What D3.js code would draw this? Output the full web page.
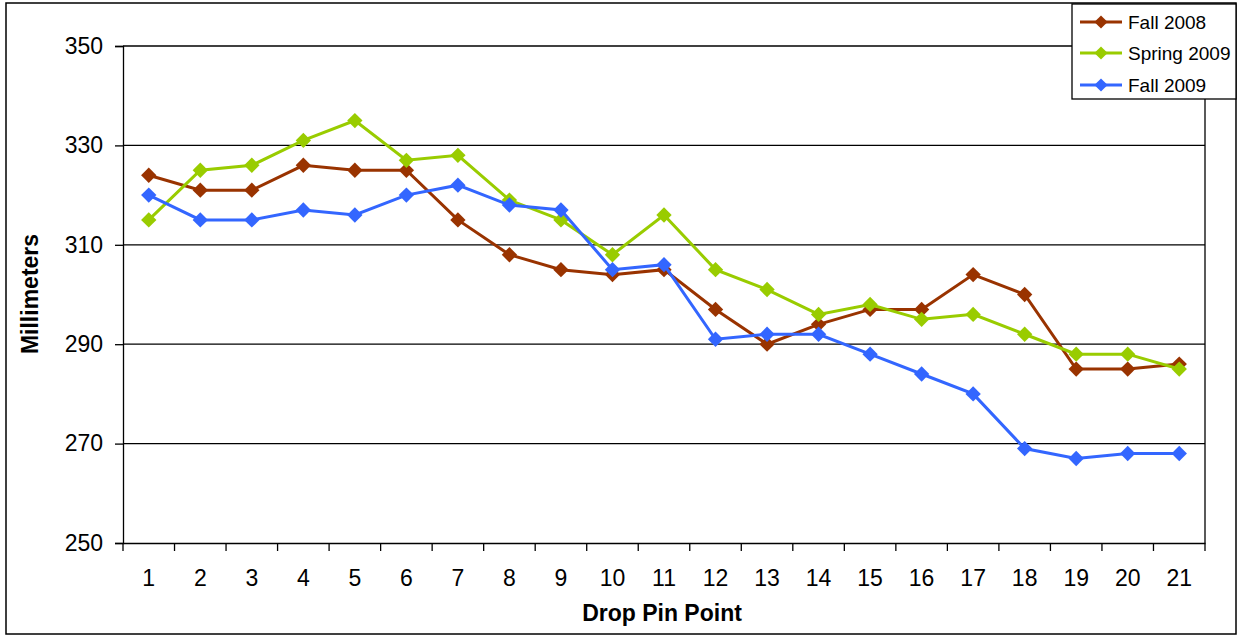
<!DOCTYPE html>
<html>
<head>
<meta charset="utf-8">
<script src="https://cdn.jsdelivr.net/npm/d3@7"></script>
<style>
html,body{margin:0;padding:0;background:#fff;}
svg{display:block;font-family:"Liberation Sans",Arial,sans-serif;}
</style>
</head>
<body>
<svg id="chart" width="1242" height="636"></svg>
<script>
const categories = ["1","2","3","4","5","6","7","8","9","10","11","12","13","14","15","16","17","18","19","20","21"];
const fall2008 = [324,321,321,326,325,325,315,308,305,304,305,297,290,294,297,297,304,300,285,285,286];
const spring2009 = [315,325,326,331,335,327,328,319,315,308,316,305,301,296,298,295,296,292,288,288,285];
const fall2009 = [320,315,315,317,316,320,322,318,317,305,306,291,292,292,288,284,280,269,267,268,268];
const seriesNames = ["Fall 2008","Spring 2009","Fall 2009"];
const seriesColors = ["#993300","#99CC00","#3366FF"];
const yTicks = [250,270,290,310,330,350];

const series = [fall2008, spring2009, fall2009].map((v,i)=>({name:seriesNames[i], color:seriesColors[i], values:v}));

const svg = d3.select("#chart");
const m = {left:123, right:1205, top:46, bottom:543};
const FONT = "Liberation Sans, Arial, sans-serif";

// outer frame
svg.append("rect").attr("x",6).attr("y",3).attr("width",1230).attr("height",631)
  .attr("fill","#fff").attr("stroke","#000").attr("stroke-width",1.5);

const x = d3.scaleBand().domain(categories).range([m.left,m.right]);
const y = d3.scaleLinear().domain([250,350]).range([m.bottom,m.top]);

// gridlines
svg.append("g").selectAll("line").data(yTicks.filter(t=>t>250)).join("line")
  .attr("x1",m.left).attr("x2",m.right)
  .attr("y1",d=>y(d)).attr("y2",d=>y(d))
  .attr("stroke","#000").attr("stroke-width",1.3);

// right border of plot
svg.append("line").attr("x1",m.right).attr("x2",m.right).attr("y1",m.top).attr("y2",m.bottom)
  .attr("stroke","#000").attr("stroke-width",1.3);

// y axis
const yAxis = svg.append("g").attr("transform",`translate(${m.left},0)`)
  .call(d3.axisLeft(y).tickValues(yTicks).tickSize(8).tickPadding(12));
yAxis.select(".domain").attr("stroke","#000").attr("stroke-width",1.3);
yAxis.selectAll(".tick line").attr("stroke","#000").attr("stroke-width",1.3);
yAxis.selectAll("text").attr("font-size","23px").attr("fill","#000").attr("font-family",FONT);

// x axis
const xAxis = svg.append("g").attr("transform",`translate(0,${m.bottom})`)
  .call(d3.axisBottom(x).tickSize(0).tickPadding(27));
xAxis.select(".domain").attr("stroke","#000").attr("stroke-width",1.3);
xAxis.selectAll("text").attr("font-size","23px").attr("fill","#000").attr("font-family",FONT);
// x tick marks between categories
const bounds = categories.map(c=>x(c)).concat([m.right]);
svg.append("g").selectAll("line").data(bounds).join("line")
  .attr("x1",d=>d).attr("x2",d=>d).attr("y1",m.bottom).attr("y2",m.bottom+8)
  .attr("stroke","#000").attr("stroke-width",1.3);

// axis titles
svg.append("text").attr("x",(m.left+m.right)/2 - 2).attr("y",621)
  .attr("text-anchor","middle").attr("font-size","23px").attr("font-weight","bold")
  .text("Drop Pin Point");
svg.append("text").attr("transform",`translate(38,294) rotate(-90)`)
  .attr("text-anchor","middle").attr("font-size","23px").attr("font-weight","bold")
  .text("Millimeters");

const cx = d=>x(d)+x.bandwidth()/2;
const line = d3.line().x((d,i)=>cx(categories[i])).y(d=>y(d));
const diamond = d3.symbol().type(d3.symbolDiamond2).size(150);
series.forEach(s=>{
  const g = svg.append("g");
  g.append("path").datum(s.values).attr("d",line)
    .attr("fill","none").attr("stroke",s.color).attr("stroke-width",3);
  g.selectAll("path.pt").data(s.values).join("path").attr("class","pt")
    .attr("transform",(d,i)=>`translate(${cx(categories[i])},${y(d)})`)
    .attr("d",diamond).attr("fill",s.color);
});

// legend
const lg = svg.append("g");
lg.append("rect").attr("x",1072).attr("y",4).attr("width",164).attr("height",95)
  .attr("fill","#fff").attr("stroke","#000").attr("stroke-width",1.3);
const ly = [22,53,85];
series.forEach((s,i)=>{
  lg.append("line").attr("x1",1080).attr("x2",1122).attr("y1",ly[i]).attr("y2",ly[i])
    .attr("stroke",s.color).attr("stroke-width",3);
  lg.append("path").attr("transform",`translate(1101,${ly[i]})`)
    .attr("d",d3.symbol().type(d3.symbolDiamond2).size(110)).attr("fill",s.color);
  lg.append("text").attr("x",1128).attr("y",ly[i]+7).attr("font-size","19px").text(s.name);
});
</script>
</body>
</html>
